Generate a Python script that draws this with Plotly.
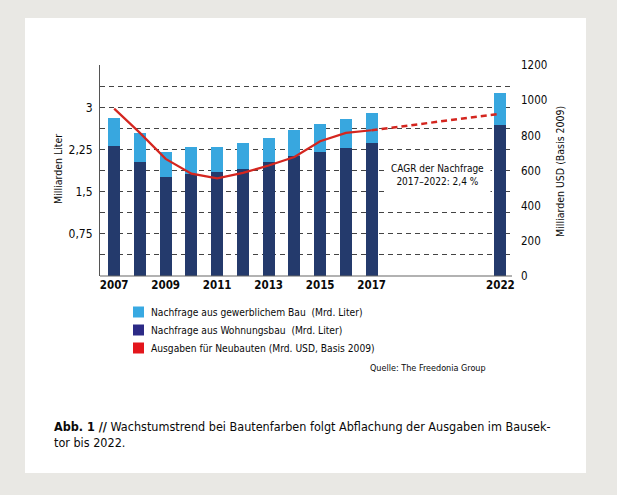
import plotly.graph_objects as go

years = [2007, 2008, 2009, 2010, 2011, 2012, 2013, 2014, 2015, 2016, 2017, 2022]
wohnungsbau = [2.32, 2.02, 1.76, 1.82, 1.85, 1.90, 2.02, 2.13, 2.21, 2.28, 2.36, 2.68]
gesamt = [2.81, 2.55, 2.20, 2.29, 2.29, 2.36, 2.46, 2.59, 2.70, 2.80, 2.90, 3.26]
gewerblich = [round(t - w, 2) for t, w in zip(gesamt, wohnungsbau)]
ausgaben = [953, 815, 667, 583, 556, 587, 629, 678, 767, 815, 830, 924]

x_ticks = [2007, 2009, 2011, 2013, 2015, 2017, 2022]
left_vals = [0.375 * i for i in range(11)]
left_text = ["", "", "", "", "", "", "", "", "", "", ""]
left_labels = {2: "0,75", 4: "1,5", 6: "2,25", 8: "3"}
for k, v in left_labels.items():
    left_text[k] = v
right_ticks = [0, 200, 400, 600, 800, 1000, 1200]

legend_items = [
    ("Nachfrage aus gewerblichem Bau  (Mrd. Liter)", "#38a9e2"),
    ("Nachfrage aus Wohnungsbau  (Mrd. Liter)", "#2c2a86"),
    ("Ausgaben für Neubauten (Mrd. USD, Basis 2009)", "#e3161c"),
]

FONT = "DejaVu Sans Condensed, Liberation Sans Narrow, Arial Narrow, sans-serif"
W, H = 617, 495
L, R, T, B = 100, 512, 65, 276


def px(x):
    return (x - L) / (R - L)


def py(y):
    return (B - y) / (B - T)


NAVY = "#243a6c"
LIGHT = "#38a7df"
RED = "#d4261f"

fig = go.Figure()
fig.add_trace(go.Bar(x=years, y=wohnungsbau, marker_color=NAVY, width=0.46,
                     marker_line_width=0, showlegend=False, hoverinfo="skip"))
fig.add_trace(go.Bar(x=years, y=gewerblich, marker_color=LIGHT, width=0.46,
                     marker_line_width=0, showlegend=False, hoverinfo="skip"))
fig.add_trace(go.Scatter(x=years[:-1], y=ausgaben[:-1], yaxis="y2", mode="lines",
                         line=dict(color=RED, width=2.2), showlegend=False, hoverinfo="skip"))
fig.add_trace(go.Scatter(x=years[-2:], y=ausgaben[-2:], yaxis="y2", mode="lines",
                         line=dict(color=RED, width=2.5, dash="6px,4px"), showlegend=False,
                         hoverinfo="skip"))

TXT = "#0a0a0a"
shapes = [
    dict(type="rect", xref="paper", yref="paper", x0=px(25), x1=px(586), y0=py(473), y1=py(18),
         fillcolor="white", line_width=0, layer="below"),
]
annotations = [
    dict(text="Milliarden Liter", xref="paper", yref="paper", x=px(58), y=py(169),
         xanchor="center", yanchor="middle",
         textangle=-90, showarrow=False, font=dict(size=10.5, color=TXT, family=FONT)),
    dict(text="Milliarden USD (Basis 2009)", xref="paper", yref="paper", x=px(560), y=py(172),
         xanchor="center", yanchor="middle",
         textangle=-90, showarrow=False, font=dict(size=10.5, color=TXT, family=FONT)),
    dict(text="CAGR der Nachfrage<br>2017–2022: 2,4 %", x=2019.57, y=1.8, xref="x", yref="y",
         xanchor="center", yanchor="middle",
         showarrow=False, bgcolor="white", font=dict(size=10, color=TXT, family=FONT),
         borderpad=6),
    dict(text="Quelle: The Freedonia Group", xref="paper", yref="paper", x=px(488), y=py(368),
         xanchor="right", yanchor="middle", showarrow=False,
         font=dict(size=9, color=TXT, family=FONT)),
    dict(text="<b>Abb. 1 //</b> Wachstumstrend bei Bautenfarben folgt Abflachung der Ausgaben im Bausek-<br>tor bis 2022.",
         xref="paper", yref="paper", x=px(52), y=py(417), xanchor="left", yanchor="top", align="left",
         showarrow=False, font=dict(size=12.5, color=TXT, family=FONT)),
]
for i, (label, col) in enumerate(legend_items):
    yc = 312 + 18 * i
    shapes.append(dict(type="rect", xref="paper", yref="paper", x0=px(133), x1=px(144),
                       y0=py(yc + 5.5), y1=py(yc - 5.5), fillcolor=col, line_width=0))
    annotations.append(dict(text=label, xref="paper", yref="paper", x=px(149), y=py(yc),
                            xanchor="left", yanchor="middle", showarrow=False,
                            font=dict(size=10.2, color=TXT, family=FONT)))

fig.update_layout(
    width=W, height=H,
    margin=dict(l=L, r=W - R, t=T, b=H - B, autoexpand=False),
    paper_bgcolor="#e9e8e4",
    plot_bgcolor="rgba(0,0,0,0)",
    barmode="stack",
    bargap=0,
    hovermode=False,
    font=dict(family=FONT, color=TXT),
    xaxis=dict(range=[2006.45, 2022.45], tickvals=x_ticks, ticks="", showgrid=False,
               zeroline=False, showline=False, fixedrange=True,
               tickfont=dict(size=11.5, family=FONT, weight="bold", color=TXT)),
    yaxis=dict(range=[0, 3.755], tickvals=left_vals, ticktext=left_text, ticks="",
               showgrid=True, gridcolor="#444", griddash="5px,4px", gridwidth=1,
               zeroline=False, showline=True, linecolor="#555", linewidth=1, fixedrange=True,
               ticklabelstandoff=4,
               tickfont=dict(size=12, family=FONT, color=TXT)),
    yaxis2=dict(range=[0, 1201.6], tickvals=right_ticks, overlaying="y", side="right",
                showgrid=False, zeroline=False, showline=False, ticks="", fixedrange=True,
                tickfont=dict(size=11.5, family=FONT, color=TXT), ticklabelstandoff=8),
    shapes=shapes,
    annotations=annotations,
)
fig.add_shape(type="line", xref="paper", yref="paper", x0=0, x1=1, y0=0, y1=0,
              line=dict(color="#666", width=1.2))

fig.write_html("out.html", config={"displayModeBar": False, "staticPlot": True},
               post_script="document.body.style.margin='0';document.body.style.background='#e9e8e4';")
